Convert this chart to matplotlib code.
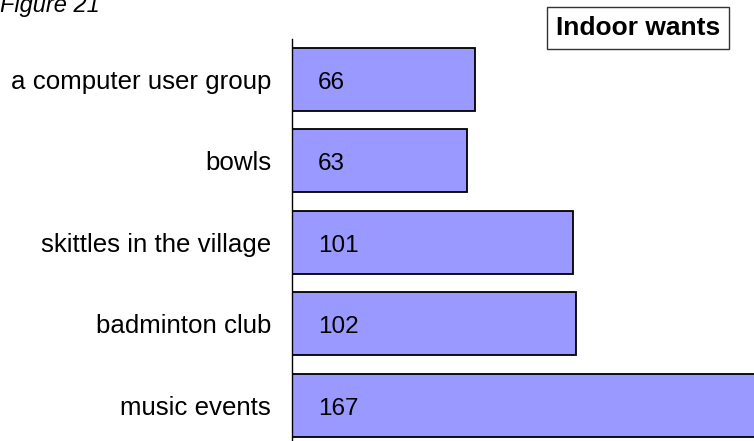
import matplotlib
matplotlib.use("Agg")
import matplotlib.pyplot as plt

plt.rcParams['font.family'] = ['Liberation Sans', 'DejaVu Sans']

# data, top to bottom
categories = ['a computer user group', 'bowls', 'skittles in the village',
              'badminton club', 'music events']
counts = [66, 63, 101, 102, 167]

fig = plt.figure(figsize=(7.54, 4.41), dpi=100)
ax = fig.add_axes([292 / 754, 1 - 446 / 441, 462 / 754, (446 - 38.75) / 441])

pos = list(range(len(categories)))
ax.barh(pos, counts, height=0.773, color='#9999ff', edgecolor='black',
        linewidth=1.3, clip_on=True)

for p, c in zip(pos, counts):
    ax.text(9.3, p + 0.04, str(c), ha='left', va='center', fontsize=17.5)

ax.set_xlim(0, 166.2)
ax.set_ylim(-0.5, len(categories) - 0.5)
ax.invert_yaxis()
ax.set_yticks(pos)
ax.set_yticklabels(categories, fontsize=18.6)
ax.tick_params(axis='y', length=0, pad=15)
ax.set_xticks([])
for s in ['top', 'right', 'bottom']:
    ax.spines[s].set_visible(False)
ax.spines['left'].set_linewidth(1.0)

fig.text(0.0, 1 - 12 / 441, 'Figure 21', style='italic', fontsize=17,
         ha='left', va='baseline')

fig.text(638 / 754, 1 - 28 / 441, 'Indoor wants', fontweight='bold',
         fontsize=19, ha='center', va='center',
         bbox=dict(boxstyle='square,pad=0.35', facecolor='white',
                   edgecolor='#333333', linewidth=1.0))

fig.savefig('out.png', dpi=100)
